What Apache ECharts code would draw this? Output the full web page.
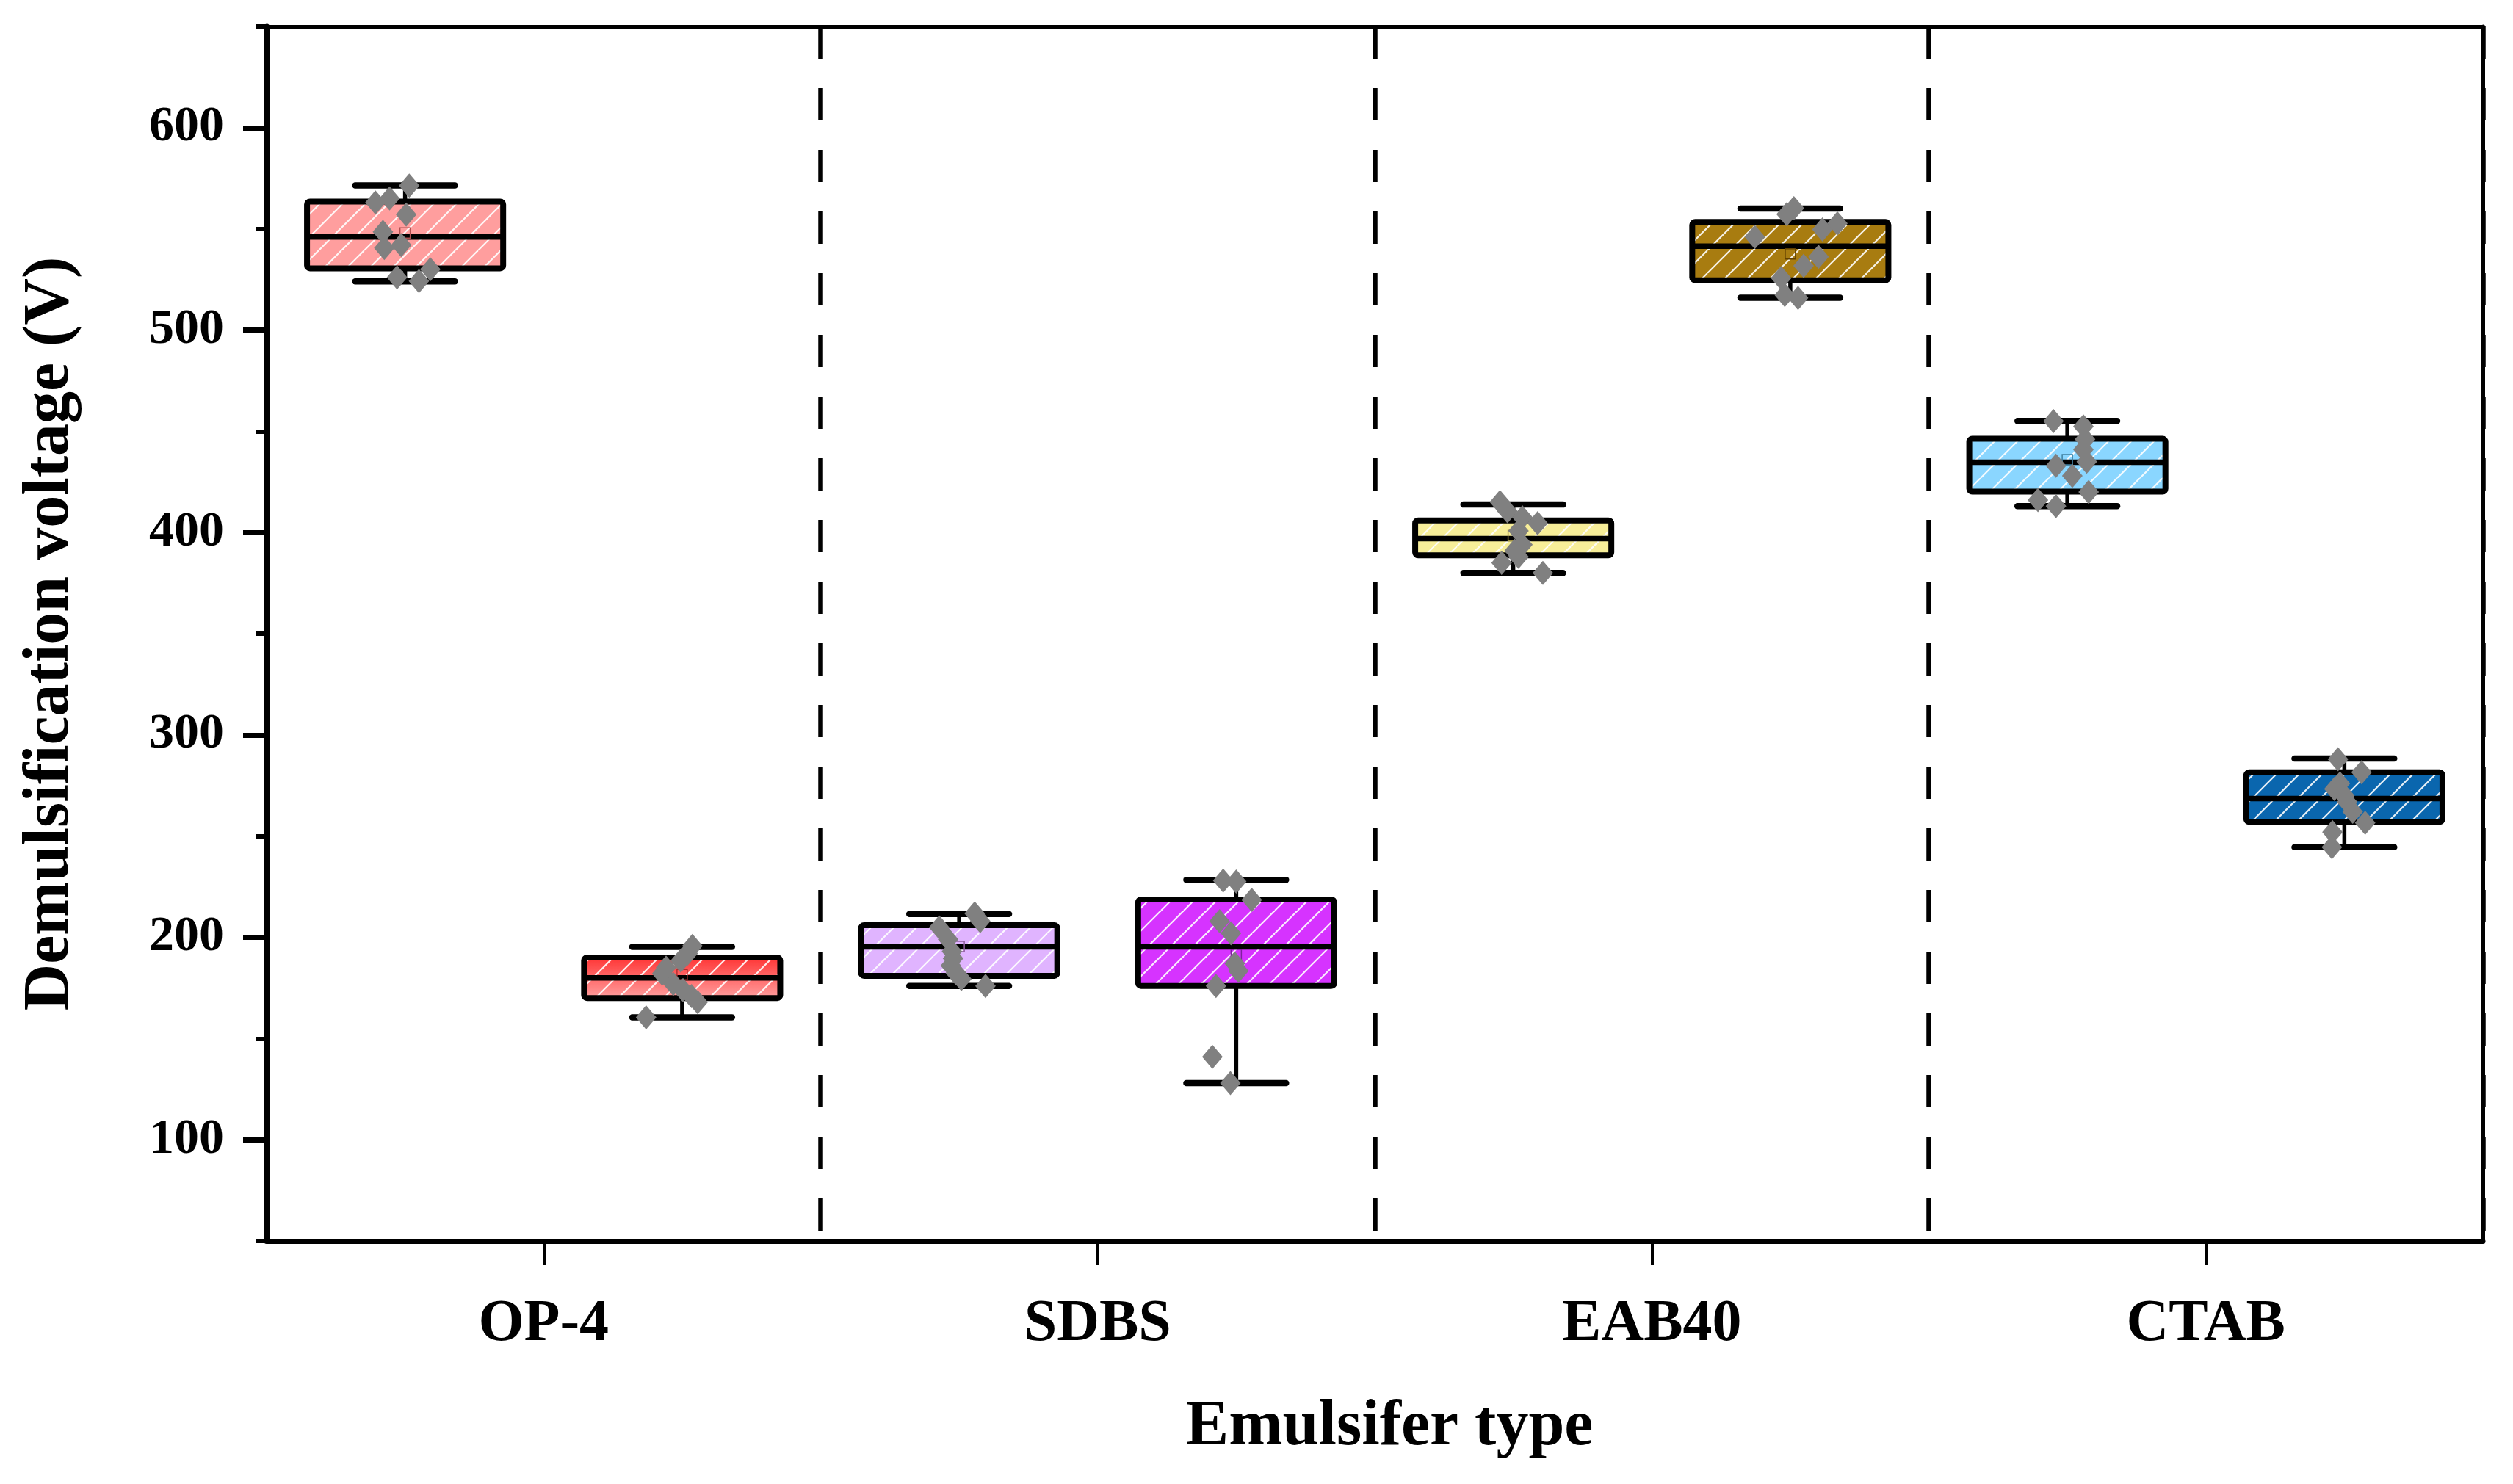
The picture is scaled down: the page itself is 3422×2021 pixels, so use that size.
<!DOCTYPE html>
<html>
<head>
<meta charset="utf-8">
<script src="https://cdn.jsdelivr.net/npm/echarts@6/dist/echarts.min.js"></script>
<style>
  html, body { margin: 0; padding: 0; background: #fff; }
  #chart { width: 3422px; height: 2021px; }
</style>
</head>
<body>
<div id="chart"></div>
<script>
// ---------------- data ----------------
const groups = ['OP-4', 'SDBS', 'EAB40', 'CTAB'];
const boxIds = ['OP-4 a', 'OP-4 b', 'SDBS a', 'SDBS b', 'EAB40 a', 'EAB40 b', 'CTAB a', 'CTAB b'];

const whiskerLow  = [524, 160.5, 176, 128, 380, 516, 413, 244.5];
const q1          = [530.5, 170, 181, 176, 388.7, 524.6, 420.2, 257];
const median      = [546, 180, 195.3, 195.3, 397, 541.4, 434.7, 268.6];
const q3          = [563.5, 190, 206, 218.7, 406, 553.4, 446.3, 281.5];
const whiskerHigh = [571.5, 195.3, 211.5, 228.4, 413.8, 560, 455.1, 288.3];
const meanValue   = [548, 181.6, 195.5, 191.6, 398.5, 537.6, 436, 268.5];

const yTickValues  = [100, 200, 300, 400, 500, 600];
const yMinorValues = [50, 150, 250, 350, 450, 550, 650];

// raw points per box: value and horizontal jitter (fraction of box slot)
const ptsOP4a   = [571.4, 565, 563, 557, 548.5, 542, 540.5, 530, 526, 524.2];
const jitOP4a   = [0.015, -0.056, -0.107, 0.004, -0.08, -0.014, -0.075, 0.091, -0.029, 0.05];
const ptsOP4b   = [195.7, 192, 188.5, 185, 182, 177, 174, 171, 168, 160.5];
const jitOP4b   = [0.037, 0.02, -0.005, -0.058, -0.072, -0.032, 0.003, 0.034, 0.056, -0.13];
const ptsSDBSa  = [211.8, 208, 204.9, 199, 193, 189.6, 186, 182.3, 179.4, 176];
const jitSDBSa  = [0.056, 0.076, -0.072, -0.04, -0.026, -0.022, -0.03, -0.012, 0.008, 0.095];
const ptsSDBSb  = [228, 227.6, 218.5, 208, 202, 187, 183.4, 176, 141, 128];
const jitSDBSb  = [-0.047, 0.0, 0.056, -0.06, -0.019, -0.005, 0.008, -0.073, -0.086, -0.021];
const ptsEAB40a = [415, 410.5, 407.5, 404.6, 400.8, 394, 391, 388, 385, 380];
const jitEAB40a = [-0.048, -0.021, 0.033, 0.088, 0.019, 0.033, 0.005, 0.019, -0.042, 0.107];
const ptsEAB40b = [560.2, 557.2, 552.7, 549.7, 546, 536.2, 531.7, 525.7, 517.3, 515.9];
const jitEAB40b = [0.013, -0.013, 0.17, 0.116, -0.128, 0.102, 0.048, -0.033, -0.02, 0.028];
const ptsCTABa  = [455, 452.4, 446, 441, 435, 433, 428, 420, 416, 413];
const jitCTABa  = [-0.05, 0.058, 0.064, 0.058, 0.07, -0.041, 0.018, 0.077, -0.106, -0.041];
const ptsCTABb  = [288, 281.5, 276, 273.3, 270, 266.8, 262, 256.6, 252, 244.5];
const jitCTABb  = [-0.023, 0.062, -0.016, -0.036, 0.0, 0.01, 0.03, 0.075, -0.043, -0.045];

const allPts = [ptsOP4a, ptsOP4b, ptsSDBSa, ptsSDBSb, ptsEAB40a, ptsEAB40b, ptsCTABa, ptsCTABb];
const allJit = [jitOP4a, jitOP4b, jitSDBSa, jitSDBSb, jitEAB40a, jitEAB40b, jitCTABa, jitCTABb];

// ---------------- styles ----------------
const boxColors = [
  '#FF9E9E',
  new echarts.graphic.LinearGradient(0, 0, 0, 1, [
    { offset: 0, color: '#FF3535' }, { offset: 1, color: '#FF9E9E' }
  ]),
  '#E0B4FF', '#D633FF', '#F7EE99', '#A87C10', '#8AD6FF', '#0A66AE'
];
const meanColors = ['#B05050', '#B03030', '#9060A0', '#8020A0', '#A09040', '#604000', '#4080A0', '#063A70'];
const FONT = 'Liberation Serif';

// hatch pattern: white "/" lines
function makeHatch(period, width, color) {
  const c = document.createElement('canvas');
  c.width = period; c.height = period;
  const ctx = c.getContext('2d');
  ctx.strokeStyle = color;
  ctx.lineWidth = width;
  [-period, 0, period].forEach(function (k) {
    ctx.beginPath();
    ctx.moveTo(k, period);
    ctx.lineTo(k + period, 0);
    ctx.stroke();
  });
  return c;
}
const hatchCanvas = makeHatch(31, 2.2, 'rgba(255,255,255,0.9)');
const hatchFill = { image: hatchCanvas, repeat: 'repeat' };

// ---------------- build ----------------
const boxData = boxIds.map(function (id, i) {
  return [i, whiskerLow[i], q1[i], median[i], q3[i], whiskerHigh[i], meanValue[i]];
});
const scatterData = [];
allPts.forEach(function (arr, i) {
  arr.forEach(function (v, j) {
    scatterData.push([i + 0.5 + allJit[i][j], v]);
  });
});

function renderBox(params, api) {
  const i = api.value(0);
  const bw = api.size([1, 0])[0];
  const boxW = bw * 0.708;
  const capW = bw * 0.36;
  const pLow = api.coord([i, api.value(1)]);
  const pQ1 = api.coord([i, api.value(2)]);
  const pMed = api.coord([i, api.value(3)]);
  const pQ3 = api.coord([i, api.value(4)]);
  const pHigh = api.coord([i, api.value(5)]);
  const pMean = api.coord([i, api.value(6)]);
  const x = pMed[0];
  const rectShape = { x: x - boxW / 2, y: pQ3[1], width: boxW, height: pQ1[1] - pQ3[1] };
  return {
    type: 'group',
    children: [
      { type: 'line', shape: { x1: x, y1: pHigh[1], x2: x, y2: pQ3[1] }, style: { stroke: '#000', lineWidth: 5.5 } },
      { type: 'line', shape: { x1: x, y1: pQ1[1], x2: x, y2: pLow[1] }, style: { stroke: '#000', lineWidth: 5.5 } },
      { type: 'line', shape: { x1: x - capW / 2, y1: pHigh[1], x2: x + capW / 2, y2: pHigh[1] }, style: { stroke: '#000', lineWidth: 8.5, lineCap: 'round' } },
      { type: 'line', shape: { x1: x - capW / 2, y1: pLow[1], x2: x + capW / 2, y2: pLow[1] }, style: { stroke: '#000', lineWidth: 8.5, lineCap: 'round' } },
      { type: 'rect', shape: rectShape, style: { fill: boxColors[i] } },
      { type: 'rect', shape: rectShape, style: { fill: hatchFill } },
      { type: 'rect', shape: Object.assign({ r: 4 }, rectShape), style: { fill: 'none', stroke: '#000', lineWidth: 8 } },
      { type: 'line', shape: { x1: x - boxW / 2, y1: pMed[1], x2: x + boxW / 2, y2: pMed[1] }, style: { stroke: '#000', lineWidth: 7.5 } },
      { type: 'rect', shape: { x: x - 7, y: pMean[1] - 7, width: 14, height: 14 }, style: { fill: 'none', stroke: meanColors[i], lineWidth: 1.5 } }
    ]
  };
}

const chart = echarts.init(document.getElementById('chart'), null, { renderer: 'canvas' });
const option = {
  backgroundColor: '#fff',
  animation: false,
  grid: { left: 363, right: 41, top: 36, bottom: 331, containLabel: false },
  xAxis: [
    { // box slots
      type: 'category', data: boxIds, position: 'bottom', boundaryGap: true,
      axisLine: { show: false, onZero: false }, axisTick: { show: false },
      axisLabel: { show: false }, splitLine: { show: false }
    },
    { // group labels
      type: 'category', data: groups, position: 'bottom', boundaryGap: true,
      name: 'Emulsifer type', nameLocation: 'middle', nameGap: 210,
      nameTextStyle: { fontFamily: FONT, fontWeight: 'bold', fontSize: 88, color: '#000', padding: [0, 0, 0, 40] },
      axisLine: { show: true, onZero: false, lineStyle: { color: '#000', width: 7 } },
      axisTick: { show: true, alignWithLabel: true, length: 33, lineStyle: { color: '#000', width: 4 } },
      axisLabel: { show: true, margin: 74, fontFamily: FONT, fontWeight: 'bold', fontSize: 80, color: '#000' },
      splitLine: { show: true, lineStyle: { color: '#000', width: 6.5, type: [44, 40] } }
    },
    { // jittered point scale
      type: 'value', min: 0, max: 8, show: false, position: 'bottom',
      axisLine: { onZero: false }, splitLine: { show: false }
    },
    { // top frame
      type: 'value', min: 0, max: 1, position: 'top',
      axisLine: { show: true, onZero: false, lineStyle: { color: '#000', width: 5 } },
      axisTick: { show: false }, axisLabel: { show: false }, splitLine: { show: false }
    }
  ],
  yAxis: [
    {
      type: 'value', min: 50, max: 650, position: 'left',
      name: 'Demulsification voltage (V)', nameLocation: 'middle', nameGap: 250,
      nameTextStyle: { fontFamily: FONT, fontWeight: 'bold', fontSize: 88, color: '#000' },
      axisLine: { show: true, onZero: false, lineStyle: { color: '#000', width: 7 } },
      axisTick: { show: true, customValues: yTickValues, length: 32, lineStyle: { color: '#000', width: 7 } },
      axisLabel: { show: true, customValues: yTickValues, margin: 58, fontFamily: FONT, fontWeight: 'bold', fontSize: 68, color: '#000' },
      splitLine: { show: false }
    },
    {
      type: 'value', min: 50, max: 650, position: 'left',
      axisLine: { show: false, onZero: false },
      axisTick: { show: true, customValues: yMinorValues, length: 15, lineStyle: { color: '#000', width: 6 } },
      axisLabel: { show: false }, splitLine: { show: false }
    },
    { // right frame
      type: 'value', min: 50, max: 650, position: 'right',
      axisLine: { show: true, onZero: false, lineStyle: { color: '#000', width: 5 } },
      axisTick: { show: false }, axisLabel: { show: false }, splitLine: { show: false }
    }
  ],
  series: [
    {
      type: 'custom', name: 'boxes', xAxisIndex: 0, yAxisIndex: 0,
      data: boxData, renderItem: renderBox, z: 3,
      encode: { x: 0, y: [1, 2, 3, 4, 5] }
    },
    {
      type: 'scatter', name: 'points', xAxisIndex: 2, yAxisIndex: 0,
      data: scatterData, symbol: 'diamond', symbolSize: [28, 33],
      itemStyle: { color: '#808080', opacity: 1 }, z: 5
    }
  ]
};
chart.setOption(option);
</script>
</body>
</html>
